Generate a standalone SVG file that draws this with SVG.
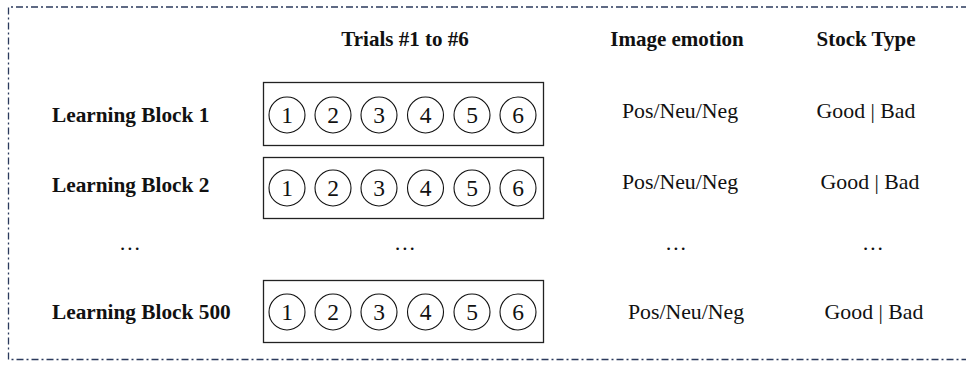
<svg xmlns="http://www.w3.org/2000/svg" width="966" height="365" viewBox="0 0 966 365">
<style>
.frame{fill:none;stroke:#2b3a5c;stroke-width:1.3;stroke-dasharray:7 3 2 3}
.box{fill:#fff;stroke:#222;stroke-width:1.3}
.c{fill:#fff;stroke:#111;stroke-width:1.1}
.h{font-family:"Liberation Serif",serif;font-weight:bold;font-size:21px;fill:#111;text-anchor:middle}
.lb{font-family:"Liberation Serif",serif;font-weight:bold;font-size:21.3px;fill:#111}
.t{font-family:"Liberation Serif",serif;font-size:21.8px;fill:#111;text-anchor:middle}
.d{font-family:"Liberation Serif",serif;font-size:23.5px;fill:#111;text-anchor:middle}
</style>
<rect width="966" height="365" fill="#fff"/>
<path class="frame" d="M968,7 H8.5 V359.5 H968"/>
<g id="headers">
<text class="h" x="405" y="46">Trials #1 to #6</text>
<text class="h" x="677" y="46">Image emotion</text>
<text class="h" x="866" y="46">Stock Type</text>
</g>
<g id="block1">
<text class="lb" x="52" y="122">Learning Block 1</text>
<rect class="box" x="263.5" y="82.5" width="280" height="63"/>
<g class="c"><circle cx="287" cy="115" r="18"/><circle cx="333" cy="115" r="18"/><circle cx="379" cy="115" r="18"/><circle cx="425.5" cy="115" r="18"/><circle cx="472" cy="115" r="18"/><circle cx="518" cy="115" r="18"/></g>
<text class="d" y="123"><tspan x="287">1</tspan><tspan x="333">2</tspan><tspan x="379">3</tspan><tspan x="425.5">4</tspan><tspan x="472">5</tspan><tspan x="518">6</tspan></text>
<text class="t" x="680" y="118">Pos/Neu/Neg</text>
<text class="t" x="866" y="118">Good | Bad</text>
</g>
<g id="block2">
<text class="lb" x="52" y="192">Learning Block 2</text>
<rect class="box" x="263.5" y="157.5" width="280" height="61"/>
<g class="c"><circle cx="287" cy="188" r="18"/><circle cx="333" cy="188" r="18"/><circle cx="379" cy="188" r="18"/><circle cx="425.5" cy="188" r="18"/><circle cx="472" cy="188" r="18"/><circle cx="518" cy="188" r="18"/></g>
<text class="d" y="196"><tspan x="287">1</tspan><tspan x="333">2</tspan><tspan x="379">3</tspan><tspan x="425.5">4</tspan><tspan x="472">5</tspan><tspan x="518">6</tspan></text>
<text class="t" x="680" y="189">Pos/Neu/Neg</text>
<text class="t" x="870" y="189">Good | Bad</text>
</g>
<g id="ellipsis">
<text class="t" x="130" y="250">…</text>
<text class="t" x="405" y="250">…</text>
<text class="t" x="676" y="250">…</text>
<text class="t" x="873" y="250">…</text>
</g>
<g id="block500">
<text class="lb" x="52" y="319">Learning Block 500</text>
<rect class="box" x="263.5" y="280.5" width="280" height="62"/>
<g class="c"><circle cx="287" cy="312" r="18"/><circle cx="333" cy="312" r="18"/><circle cx="379" cy="312" r="18"/><circle cx="425.5" cy="312" r="18"/><circle cx="472" cy="312" r="18"/><circle cx="518" cy="312" r="18"/></g>
<text class="d" y="320"><tspan x="287">1</tspan><tspan x="333">2</tspan><tspan x="379">3</tspan><tspan x="425.5">4</tspan><tspan x="472">5</tspan><tspan x="518">6</tspan></text>
<text class="t" x="686" y="319">Pos/Neu/Neg</text>
<text class="t" x="874" y="319">Good | Bad</text>
</g>
<g id="connectors"></g>
</svg>
